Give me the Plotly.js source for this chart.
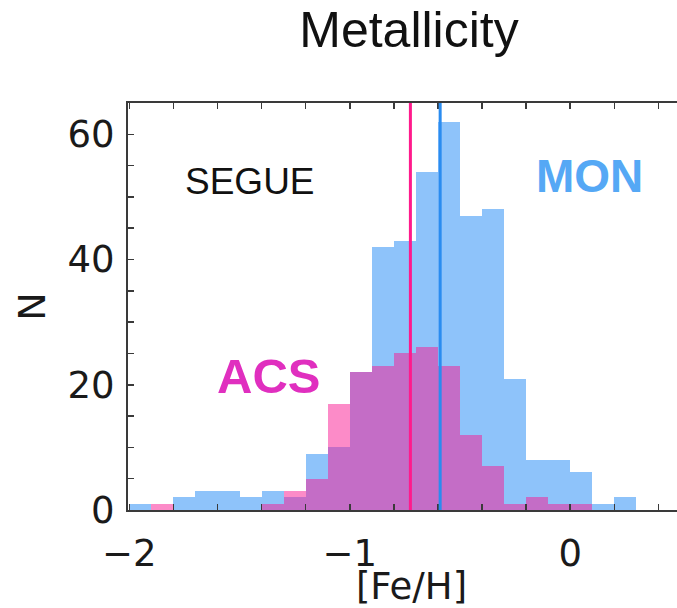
<!DOCTYPE html>
<html>
<head>
<meta charset="utf-8">
<script src="https://cdn.plot.ly/plotly-3.0.1.min.js"></script>
<style>
  html, body { margin: 0; padding: 0; overflow: hidden; background: #fff; }
  #chart { width: 700px; height: 608px; }
</style>
</head>
<body>
<div id="chart"></div>
<script>
// Bin centres of [Fe/H] histogram (bin width 0.1, from -2.0 to 0.3)
const binCenters = [-1.95, -1.85, -1.75, -1.65, -1.55, -1.45, -1.35, -1.25, -1.15, -1.05,
                    -0.95, -0.85, -0.75, -0.65, -0.55, -0.45, -0.35, -0.25, -0.15, -0.05,
                     0.05,  0.15,  0.25];
const binWidth = 0.1;
// Counts
const monCounts = [1, 0, 2, 3, 3, 2, 3, 2, 9, 10, 22, 42, 43, 54, 62, 47, 48, 21, 8, 8, 6, 1, 2];
const acsCounts = [0, 1, 0, 0, 0, 0, 1, 3, 5, 17, 22, 23, 25, 26, 23, 12, 7, 1, 2, 1, 1, 0, 0];
// Mean metallicity lines
const meanACS = -0.725;
const meanMON = -0.59;
// Axis ticks
const xTickVals = [-2, -1.8, -1.6, -1.4, -1.2, -1, -0.8, -0.6, -0.4, -0.2, 0, 0.2, 0.4, 0.6];
const xTickText = ['\u22122', '', '', '', '', '\u22121', '', '', '', '', '0', '', '', ''];
const yTickVals = [0, 5, 10, 15, 20, 25, 30, 35, 40, 45, 50, 55, 60, 65];
const yTickText = ['0', '', '', '', '20', '', '', '', '40', '', '', '', '60', ''];

const widths = binCenters.map(() => binWidth);

const traces = [
  {
    type: 'bar', name: 'MON', x: binCenters, y: monCounts, width: widths,
    marker: { color: 'rgba(30,136,245,0.5)', line: { width: 0 } },
    hoverinfo: 'x+y'
  },
  {
    type: 'bar', name: 'ACS', x: binCenters, y: acsCounts, width: widths,
    marker: { color: 'rgba(249,23,145,0.5)', line: { width: 0 } },
    hoverinfo: 'x+y'
  }
];

const axisColor = '#3a3a3a';
const tickFont = { family: 'DejaVu Sans', size: 37, color: '#1a1a1a' };
const W = 700;

const layout = {
  width: W, height: 608,
  margin: { l: 128, r: 5, t: 103, b: 98, pad: 0 },
  paper_bgcolor: '#ffffff', plot_bgcolor: '#ffffff',
  barmode: 'overlay', bargap: 0, showlegend: false,
  title: {
    text: 'Metallicity',
    font: { family: 'Liberation Sans, Arial, sans-serif', size: 50, color: '#111' },
    xref: 'container', x: 409 / W, xanchor: 'center',
    yref: 'container', y: 1 - 29 / 608, yanchor: 'middle'
  },
  xaxis: {
    range: [-2.006, 0.566],
    tickmode: 'array', tickvals: xTickVals, ticktext: xTickText,
    ticks: 'inside', ticklen: 6, tickwidth: 1.5, tickcolor: axisColor,
    showline: true, linecolor: axisColor, linewidth: 2, mirror: 'ticks',
    showgrid: false, zeroline: false,
    tickfont: tickFont, ticklabelstandoff: 10,
    title: { text: '[Fe/H]', font: { family: 'DejaVu Sans', size: 37, color: '#1a1a1a' }, standoff: 2 }
  },
  yaxis: {
    range: [0, 65],
    tickmode: 'array', tickvals: yTickVals, ticktext: yTickText,
    ticks: 'inside', ticklen: 6, tickwidth: 1.5, tickcolor: axisColor,
    showline: true, linecolor: axisColor, linewidth: 2, mirror: 'ticks',
    showgrid: false, zeroline: false,
    tickfont: tickFont, ticklabelstandoff: 4,
    title: { text: 'N', font: { family: 'DejaVu Sans', size: 38, color: '#1a1a1a' }, standoff: 10 }
  },
  shapes: [
    { type: 'line', xref: 'x', yref: 'paper', x0: meanACS, x1: meanACS, y0: 0, y1: 1,
      line: { color: '#ff1a8c', width: 3 } },
    { type: 'line', xref: 'x', yref: 'paper', x0: meanMON, x1: meanMON, y0: 0, y1: 1,
      line: { color: '#2a8cf0', width: 3 } }
  ],
  annotations: [
    { text: 'SEGUE', x: -1.454, y: 52.4, xref: 'x', yref: 'y', showarrow: false,
      font: { family: 'Liberation Sans, Arial, sans-serif', size: 37, color: '#111' } },
    { text: '<b>ACS</b>', x: -1.368, y: 21.4, xref: 'x', yref: 'y', showarrow: false,
      font: { family: 'Liberation Sans, Arial, sans-serif', size: 49, color: '#e02fbf' } },
    { text: '<b>MON</b>', x: 0.089, y: 53.3, xref: 'x', yref: 'y', showarrow: false,
      font: { family: 'Liberation Sans, Arial, sans-serif', size: 46, color: '#55a8f5' } }
  ]
};

Plotly.newPlot('chart', traces, layout, { displayModeBar: false, staticPlot: true });
</script>
</body>
</html>
